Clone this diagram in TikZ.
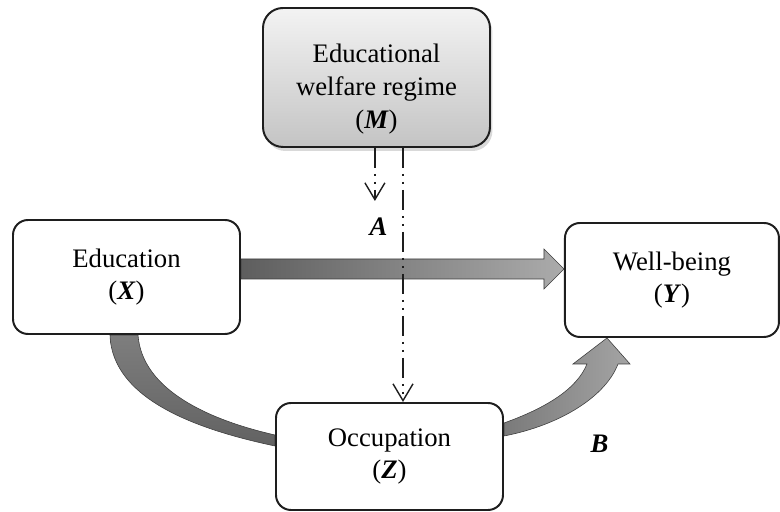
\documentclass[tikz,border=0pt]{standalone}
\usepackage{fontspec}
\setmainfont{Liberation Serif}
\usetikzlibrary{positioning, arrows.meta, calc, backgrounds, shadows}
\definecolor{boxline}{HTML}{1E1E1E}
\definecolor{bandline}{HTML}{3C3C3C}
\definecolor{arrowdark}{HTML}{5E5E5E}
\definecolor{arrowlight}{HTML}{ABABAB}
\definecolor{bandtop}{HTML}{7E7E7E}
\definecolor{bandbottom}{HTML}{626262}
\definecolor{curveleft}{HTML}{7A7A7A}
\definecolor{curveright}{HTML}{A4A4A4}
\definecolor{regimetop}{HTML}{F3F3F3}
\definecolor{regimebottom}{HTML}{C4C4C4}
\tikzset{
  varbox/.style={
    draw=boxline, line width=1.4pt, rounded corners=0.375cm, fill=white,
    align=center, font=\fontsize{19}{22.5}\selectfont,
    minimum width=5.675cm, minimum height=2.85cm
  },
  regimebox/.style={
    varbox, rounded corners=0.5cm, minimum height=3.475cm,
    top color=regimetop, bottom color=regimebottom,
    drop shadow={shadow xshift=0.06cm, shadow yshift=-0.1cm, opacity=0.3}
  },
  boxtext/.style={align=center, font=\fontsize{19}{23.5}\selectfont},
  % Broad shaded arrows
  bigarrow/.style={draw=bandline, line width=0.4pt},
  % Moderating links
  moderate/.style={
    draw=boxline, line width=1pt,
    dash pattern=on 0.5cm off 0.15cm on 0.05cm off 0.15cm on 0.05cm off 0.15cm,
    -{Straight Barb[length=0.42cm, width=0.5cm]}
  },
  pathlabel/.style={font=\fontsize{19}{22}\selectfont\bfseries\itshape}
}
\newcommand{\varsym}[1]{(\textbf{\textit{#1}})}

\begin{document}
\begin{tikzpicture}
  \useasboundingbox (0,0) rectangle (19.5,12.8);

  %% -- Variables --
  \node[varbox] (education) at (3.1625,5.875) {Education\\\varsym{X}};
  \node[varbox, minimum width=5.35cm, right=8.075cm of education, yshift=-0.075cm] (wellbeing) {Well-being\\\varsym{Y}};
  \node[varbox, minimum height=2.675cm] (occupation) at (9.7375,1.3875) {Occupation\\\varsym{Z}};
  \node[regimebox] (regime) at (9.4125,10.8625) {};
  \node[boxtext] (regimetext) at ([yshift=-0.29cm]regime.center) {Educational\\welfare regime\\\varsym{M}};

  %% -- Shaded arrows --
  \begin{scope}[on background layer]
    % X -> Y
    \coordinate (xs) at ([yshift=0.2cm]education.east);
    \coordinate (xt) at (xs -| wellbeing.west);
    \draw[bigarrow, left color=arrowdark, right color=arrowlight]
      ($(xs)+(0,0.25)$) -- ($(xt)+(-0.5,0.25)$) -- ($(xt)+(-0.5,0.5)$) -- (xt)
      -- ($(xt)+(-0.5,-0.5)$) -- ($(xt)+(-0.5,-0.25)$) -- ($(xs)+(0,-0.25)$) -- cycle;
    % X -> Z
    \coordinate (xz1) at ([xshift=-0.4125cm]education.south);
    \coordinate (xz2) at ([yshift=0.2625cm]occupation.west);
    \coordinate (xz3) at ([yshift=0.5375cm]occupation.west);
    \coordinate (xz4) at ([xshift=0.2875cm]education.south);
    \draw[bigarrow, top color=bandtop, bottom color=bandbottom]
      (xz1) .. controls +(0.05,-1.625) and +(-1.9,0.4) .. (xz2)
      -- (xz3) .. controls +(-1.65,0.375) and +(0.1,-1.375) .. (xz4) -- cycle;
    % Z -> Y
    \coordinate (zy1) at ([yshift=0.8375cm]occupation.east);
    \coordinate (zy2) at ([yshift=0.5125cm]occupation.east);
    \coordinate (zy) at ([xshift=1.075cm]wellbeing.south west);
    \draw[bigarrow, left color=curveleft, right color=curveright]
      (zy1) .. controls +(1.05,0.375) and +(-0.25,-0.625) .. ($(zy)+(-0.5,-0.65)$)
      -- ($(zy)+(-0.85,-0.65)$) -- (zy) -- ($(zy)+(0.575,-0.65)$) -- ($(zy)+(0.275,-0.65)$)
      .. controls +(-0.3,-0.8) and +(1.425,0.275) .. (zy2) -- cycle;
  \end{scope}

  %% -- Moderating links --
  \coordinate (atip) at ([xshift=-0.04cm, yshift=-1.325cm]regime.south);
  \draw[moderate] ([xshift=-0.04cm]regime.south) -- (atip);
  \draw[moderate] ([xshift=0.6625cm]regime.south) -- ([xshift=0.6625cm]regime.south |- occupation.north);

  %% -- Labels --
  \node[pathlabel] (alabel) at (9.4625,7.125) {A};
  \node[pathlabel] (blabel) at (14.9875,1.7125) {B};
\end{tikzpicture}
\end{document}
